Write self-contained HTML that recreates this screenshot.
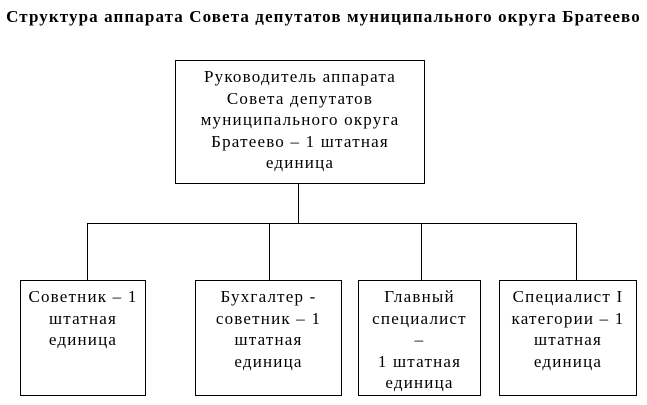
<!DOCTYPE html>
<html><head><meta charset="utf-8"><style>
body{margin:0;width:647px;height:405px;background:#fff;position:relative;overflow:hidden;font-family:"Liberation Serif",serif;color:#000}
.t{position:absolute;left:0;top:7px;width:647px;text-align:center;font-weight:bold;font-size:17px;letter-spacing:1.1px;white-space:nowrap}
.b{position:absolute;border:1.3px solid #000;box-sizing:border-box;text-align:center;font-size:17px;letter-spacing:1.2px;line-height:21.5px;padding-top:5px;white-space:nowrap}
.h{position:absolute;background:#000;height:1.3px}
.v{position:absolute;background:#000;width:1.3px}
</style></head><body>
<div class="t">Структура аппарата Совета депутатов муниципального округа Братеево</div>
<div class="b" style="left:175px;top:60px;width:250px;height:124px;">Руководитель аппарата<br>Совета депутатов<br>муниципального округа<br>Братеево – 1 штатная<br>единица</div>
<div class="v" style="left:298px;top:184px;height:40px"></div>
<div class="h" style="left:87px;top:223px;width:490px"></div>
<div class="v" style="left:87px;top:223px;height:57px"></div>
<div class="v" style="left:269px;top:223px;height:57px"></div>
<div class="v" style="left:421px;top:223px;height:57px"></div>
<div class="v" style="left:576px;top:223px;height:57px"></div>
<div class="b" style="left:20px;top:280px;width:126px;height:116px;">Советник – 1<br>штатная<br>единица</div>
<div class="b" style="left:195px;top:280px;width:147px;height:116px;">Бухгалтер -<br>советник – 1<br>штатная<br>единица</div>
<div class="b" style="left:358px;top:280px;width:123px;height:116px;">Главный<br>специалист<br>–<br>1 штатная<br>единица</div>
<div class="b" style="left:499px;top:280px;width:138px;height:116px;">Специалист I<br>категории – 1<br>штатная<br>единица</div>
</body></html>
